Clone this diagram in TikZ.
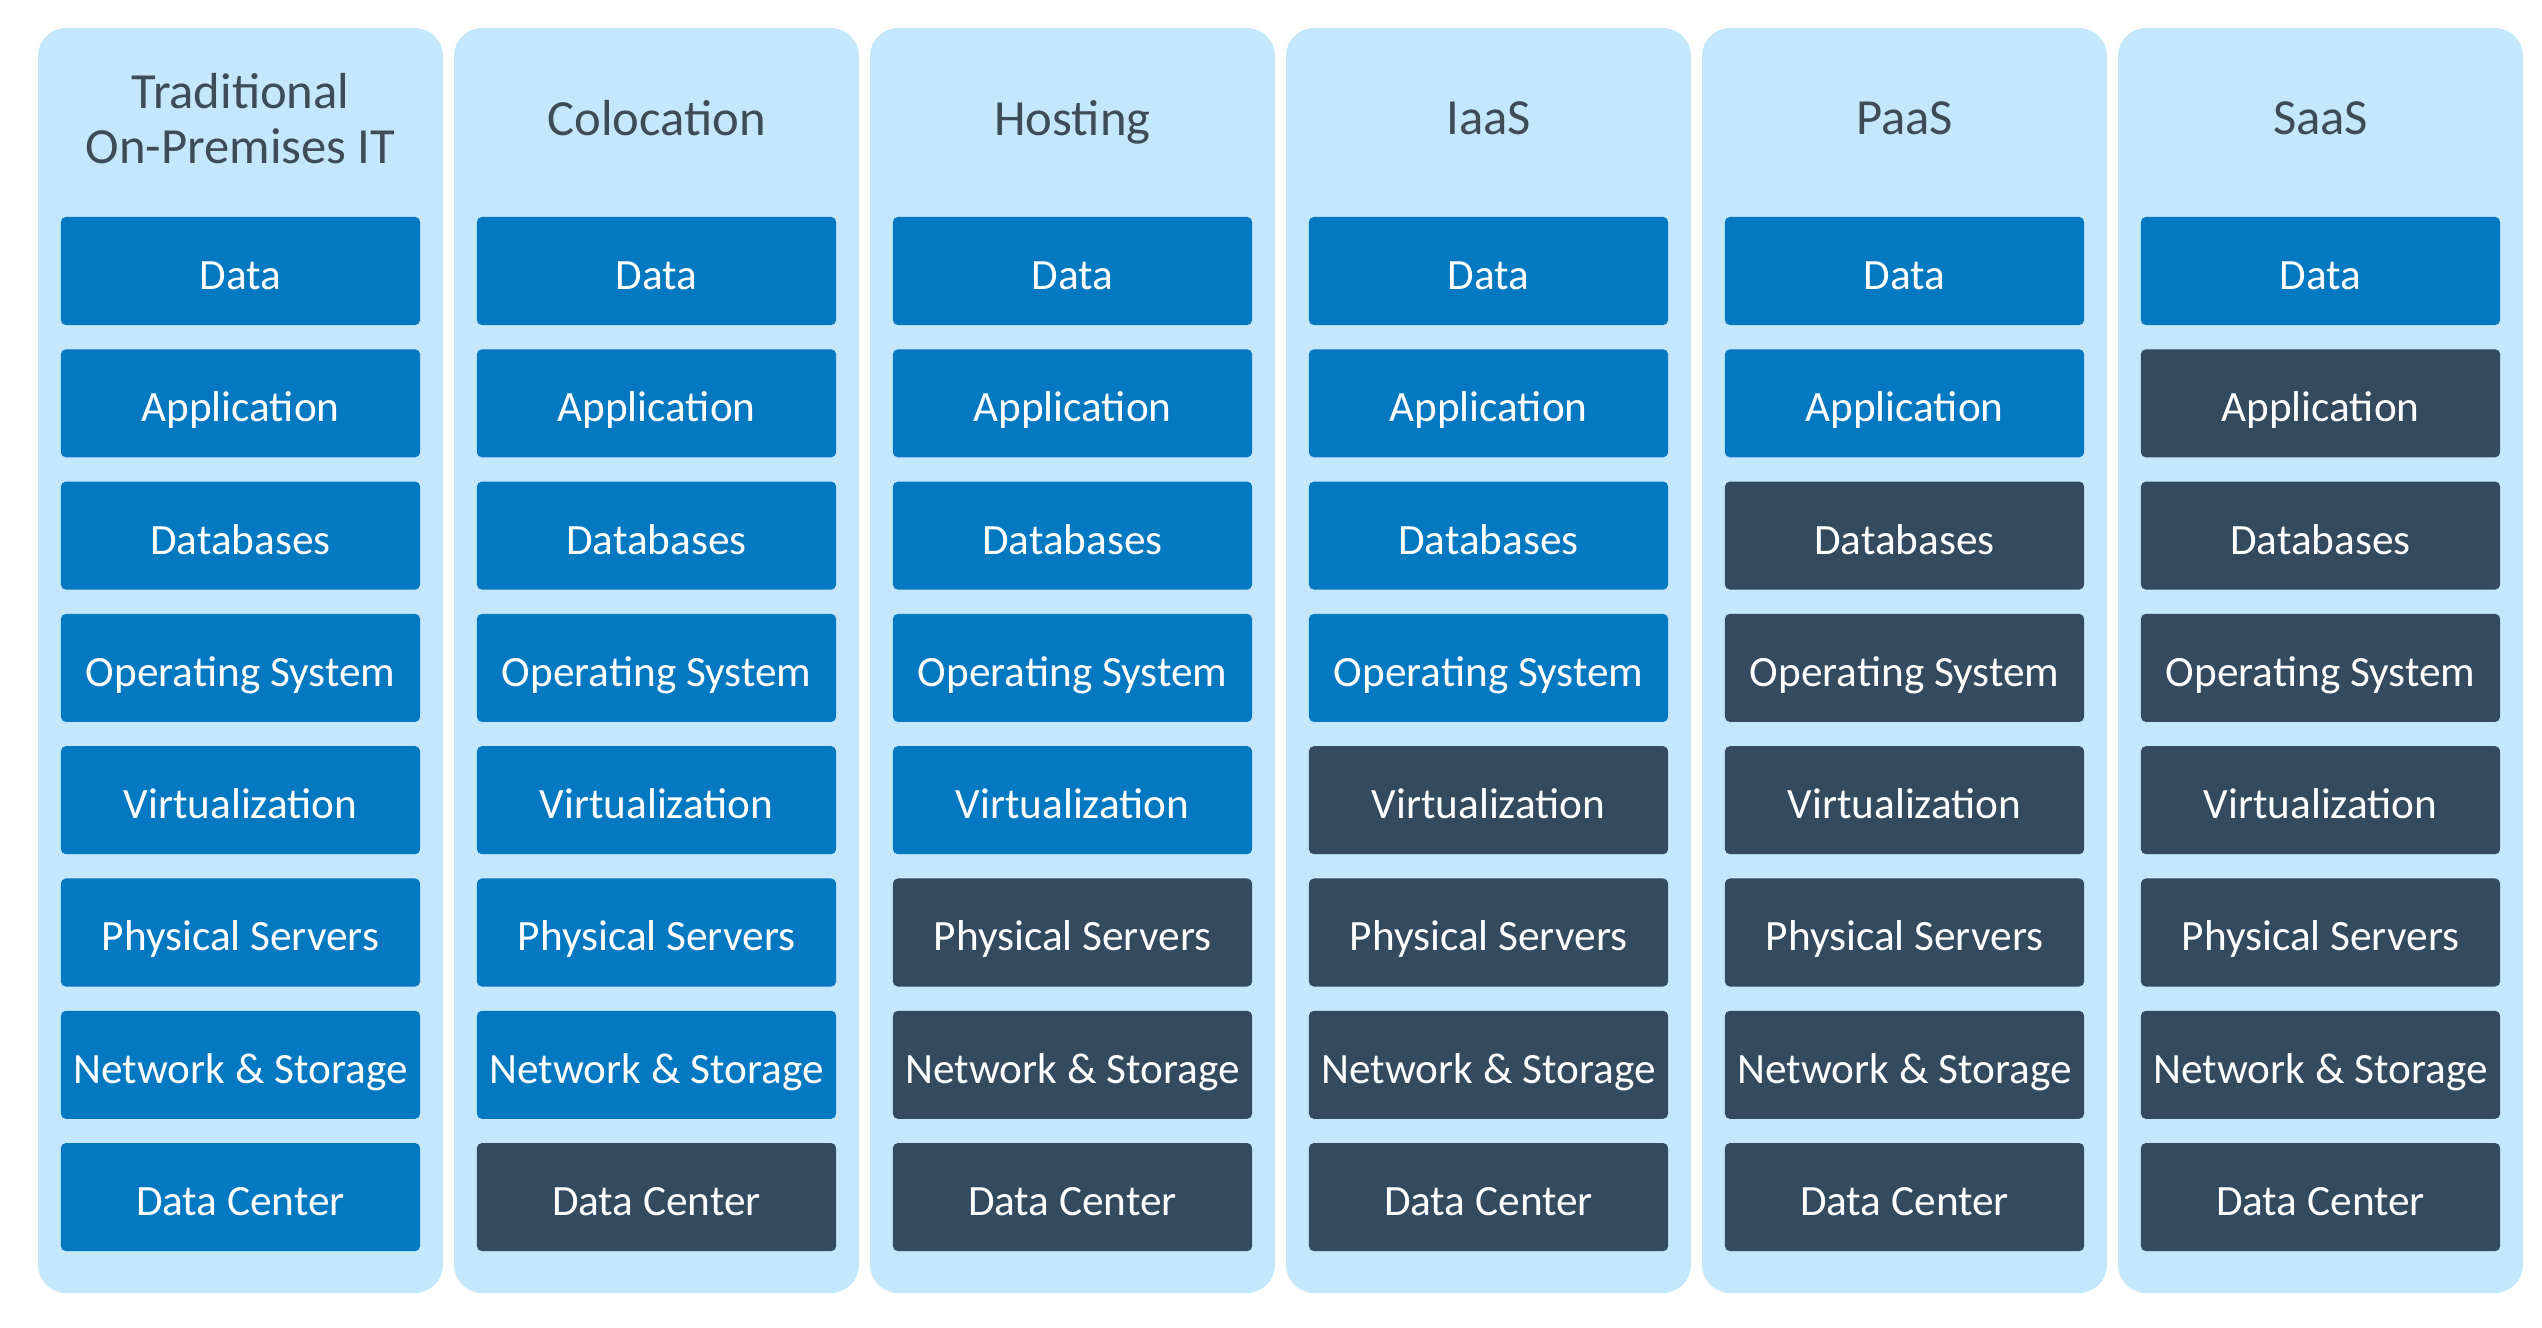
\documentclass[tikz,border=0pt]{standalone}
\usepackage{fontspec}
\setmainfont{Carlito}
\usetikzlibrary{positioning}
\definecolor{panelblue}{HTML}{C5E7FB}
\definecolor{ownblue}{HTML}{0478C1}
\definecolor{slate}{HTML}{344A5E}
\definecolor{titlegrey}{HTML}{3E4B58}
\tikzset{
  panel/.style={fill=panelblue, rounded corners=0.28cm},
  layer/.style={minimum width=3.59cm, minimum height=1.08cm, inner sep=0pt,
    text height=10.5pt, text depth=0pt,
    rounded corners=0.05cm, text=white, font=\fontsize{12.3}{14}\selectfont},
  heading/.style={text=titlegrey, align=center, text depth=0pt,
    font=\fontsize{14.4}{15.6}\selectfont}
}

\begin{document}
\begin{tikzpicture}[x=0.01cm, y=-0.01cm]
  \useasboundingbox (0,0) rectangle (2542,1328);
  % Columns
  \foreach \col/\colname/\nown [count=\i from 0] in {trad/{Traditional\\On-Premises IT}/8,
      colo/Colocation/7, host/Hosting/5, iaas/IaaS/4, paas/PaaS/2, saas/SaaS/1} {
    \fill[panel] (38+416*\i,28) rectangle ++(405,1265);
    \node[heading] (\col-title) at (240.5+416*\i,118) {\colname};
    % Layers, top to bottom
    \foreach \layername [count=\r] in {Data, Application, Databases, Operating System,
        Virtualization, Physical Servers, Network \& Storage, Data Center} {
      \ifnum\r>\nown \def\shade{slate}\else\def\shade{ownblue}\fi
      \node[layer, fill=\shade] (\col-\r) at (240.5+416*\i, 138.7+132.3*\r) {\layername};
    }
  }
\end{tikzpicture}
\end{document}
